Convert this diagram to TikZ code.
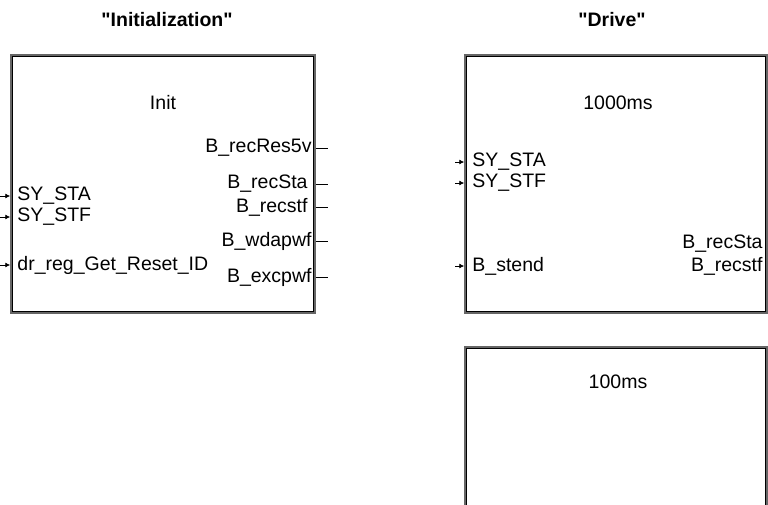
\documentclass[tikz,border=0pt]{standalone}
\usepackage{fontspec}
\setmainfont{Liberation Sans}
\newfontfamily\headfont{Liberation Sans}
\usetikzlibrary{arrows.meta}
\newcommand{\portfont}{\fontsize{19.5pt}{22pt}\selectfont}
\tikzset{
  block/.style={draw=black!60, line width=1.5pt, inner sep=0pt},
  blockline/.style={draw=black, line width=0.9pt},
  inport/.style={anchor=west, inner xsep=7pt, inner ysep=0pt, font=\portfont},
  outport/.style={anchor=east, inner xsep=4pt, inner ysep=0pt, font=\portfont},
  wire/.style={line width=0.8pt},
  pin/.style={wire, -{Latex[length=5pt,width=5pt]}},
  heading/.style={font=\headfont\portfont\bfseries}
}
\begin{document}
\begin{tikzpicture}[x=1pt, y=-1pt]
\clip (0,0) rectangle (768,504);
% task blocks
\node[block, minimum width=304pt, minimum height=258pt] (init) at (163,184) {};
\node[block, minimum width=302pt, minimum height=258pt] (drive) at (616,184) {};
\node[block, minimum width=302pt, minimum height=258pt] (cyc) at (616,476) {};
\draw[blockline] ([shift={(2.5,2.5)}]init.north west) rectangle ([shift={(-2.5,-2.5)}]init.south east);
\draw[blockline] ([shift={(2.5,2.5)}]drive.north west) rectangle ([shift={(-2.5,-2.5)}]drive.south east);
\draw[blockline] ([shift={(2.5,2.5)}]cyc.north west) rectangle ([shift={(-2.5,-2.5)}]cyc.south east);
% headings and names
\node[heading] (t-init) at (167,20) {"Initialization"};
\node[heading] (t-drive) at (612,20) {"Drive"};
\node[font=\portfont] (n-init) at (163,103) {Init};
\node[font=\portfont] (n-drive) at (618,103) {1000ms};
\node[font=\portfont] (n-cyc) at (618,382) {100ms};
% Init inputs
\node[inport] (i-sta) at (init.west |- 0,196) {SY\_STA};
\node[inport] (i-stf) at (init.west |- 0,217) {SY\_STF};
\node[inport] (i-rid) at (init.west |- 0,265) {dr\_reg\_Get\_Reset\_ID};
\coordinate (i-sta-in) at (0,196);
\coordinate (i-stf-in) at (0,217);
\coordinate (i-rid-in) at (0,265);
\draw[pin] (i-sta-in) -- (i-sta.west);
\draw[pin] (i-stf-in) -- (i-stf.west);
\draw[pin] (i-rid-in) -- (i-rid.west);
% Init outputs
\node[outport] (o-res) at (init.east |- 0,148) {B\_recRes5v};
\node[outport] (o-sta) at ([xshift=-4pt]init.east |- 0,184) {B\_recSta};
\node[outport] (o-stf) at ([xshift=-4pt]init.east |- 0,207) {B\_recstf};
\node[outport] (o-wda) at (init.east |- 0,241) {B\_wdapwf};
\node[outport] (o-exc) at (init.east |- 0,277) {B\_excpwf};
\coordinate (o-res-out) at (328,148);
\coordinate (o-sta-out) at (328,184);
\coordinate (o-stf-out) at (328,207);
\coordinate (o-wda-out) at (328,241);
\coordinate (o-exc-out) at (328,277);
\draw[wire] (init.east |- o-res) -- (o-res-out);
\draw[wire] (init.east |- o-sta) -- (o-sta-out);
\draw[wire] (init.east |- o-stf) -- (o-stf-out);
\draw[wire] (init.east |- o-wda) -- (o-wda-out);
\draw[wire] (init.east |- o-exc) -- (o-exc-out);
% Drive inputs
\node[inport, inner xsep=8pt] (d-sta) at (drive.west |- 0,162) {SY\_STA};
\node[inport, inner xsep=8pt] (d-stf) at (drive.west |- 0,183) {SY\_STF};
\node[inport, inner xsep=8pt] (d-end) at (drive.west |- 0,266) {B\_stend};
\coordinate (d-sta-in) at (455,162);
\coordinate (d-stf-in) at (455,183);
\coordinate (d-end-in) at (455,266);
\draw[pin] (d-sta-in) -- (d-sta.west);
\draw[pin] (d-stf-in) -- (d-stf.west);
\draw[pin] (d-end-in) -- (d-end.west);
% Drive outputs
\node[outport, inner xsep=5pt] (e-sta) at (drive.east |- 0,244) {B\_recSta};
\node[outport, inner xsep=5pt] (e-stf) at (drive.east |- 0,266) {B\_recstf};
\end{tikzpicture}
\end{document}
